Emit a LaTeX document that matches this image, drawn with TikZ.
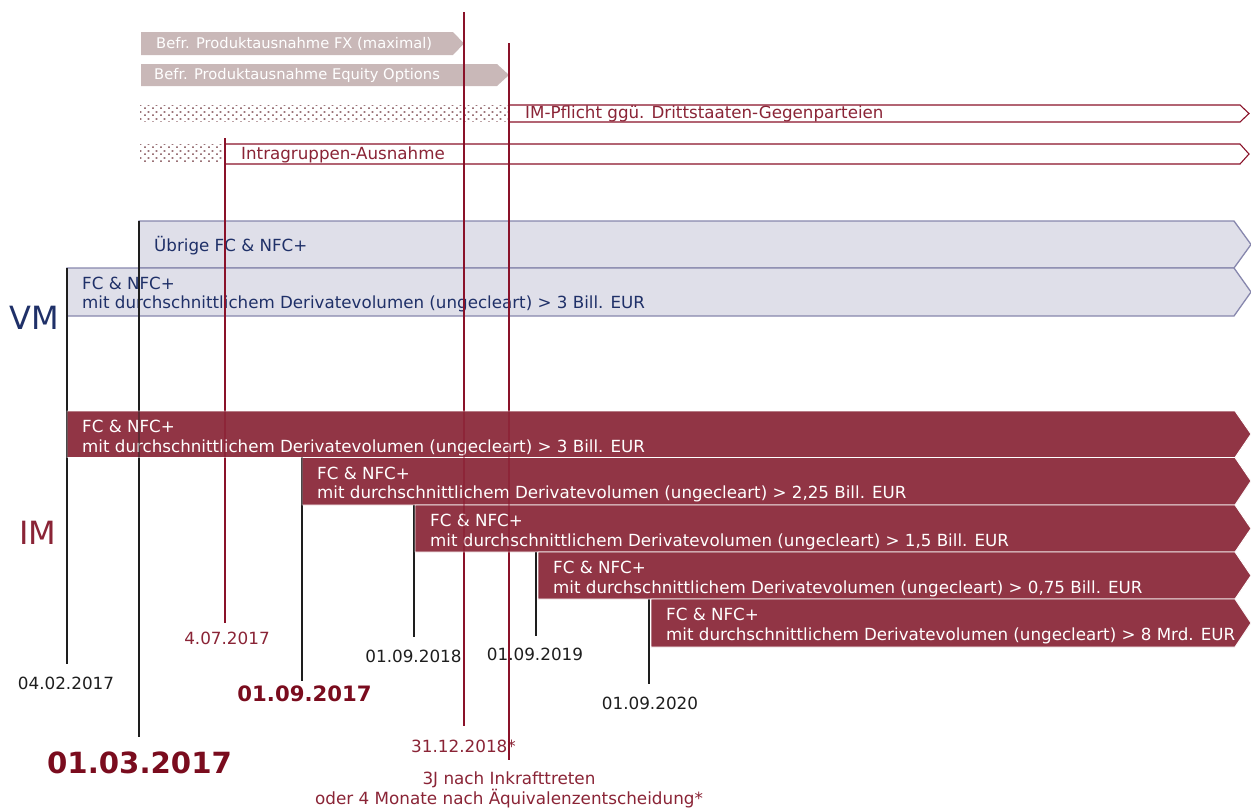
\documentclass[tikz,border=0pt]{standalone}
\usepackage{fontspec}
\setmainfont{DejaVu Sans}
\usetikzlibrary{patterns}
\definecolor{imfill}{HTML}{913545}
\definecolor{redline}{HTML}{8A1229}
\definecolor{redtxt}{HTML}{8A2436}
\definecolor{boldred}{HTML}{7A0C1E}
\definecolor{vmfill}{HTML}{DFDFE9}
\definecolor{vmdraw}{HTML}{8787AD}
\definecolor{vmtxt}{HTML}{1F3068}
\definecolor{grayfill}{HTML}{C9B8B8}
\definecolor{dotc}{HTML}{9C7479}
\definecolor{blk}{HTML}{1E1E1E}
\pgfdeclarepatternformonly{sparsedots}{\pgfpointorigin}{\pgfpoint{8pt}{6.6pt}}{\pgfpoint{8pt}{6.6pt}}{%
  \pgfpathrectangle{\pgfpoint{0pt}{0pt}}{\pgfpoint{2pt}{1.8pt}}%
  \pgfpathrectangle{\pgfpoint{4pt}{3.3pt}}{\pgfpoint{2pt}{1.8pt}}%
  \pgfusepath{fill}}
\tikzset{
  graybar/.style={fill=grayfill},
  graytxt/.style={anchor=west, inner sep=0, text=white, font=\fontsize{14.7}{17}\selectfont},
  dotbar/.style={pattern=sparsedots, pattern color=dotc},
  outbar/.style={draw=redline, line width=1.1pt, fill=white},
  outtxt/.style={anchor=west, inner sep=0, text=redtxt, font=\fontsize{16.7}{19}\selectfont},
  vmbar/.style={fill=vmfill, draw=vmdraw, line width=1.3pt},
  vmtxt/.style={anchor=north west, align=left, inner sep=0, text=vmtxt, font=\fontsize{16.7}{19.5}\selectfont},
  imbar/.style={fill=imfill, draw=white, line width=0.9pt},
  imtxt/.style={anchor=north west, align=left, inner sep=0, text=white, font=\fontsize{16.7}{19.5}\selectfont},
  redv/.style={draw=redline, line width=1.6pt},
  blkv/.style={draw=blk, line width=1.9pt},
  datetxt/.style={inner sep=0, text=blk, font=\fontsize{16.8}{19}\selectfont},
  reddate/.style={inner sep=0, text=redtxt, font=\fontsize{16.8}{20}\selectfont},
  bigtxt/.style={inner sep=0, font=\fontsize{32}{36}\selectfont},
}
\begin{document}
\begin{tikzpicture}[x=1pt,y=-1pt]
\useasboundingbox (0,0) rectangle (1251,809);

% top grey exemption bars
\fill[graybar] (141,32) -- (453,32) -- (464,43.5) -- (453,55) -- (141,55) -- cycle;
\node[graytxt] (fx) at (156,43.5) {Befr. Produktausnahme FX (maximal)};
\fill[graybar] (141,64) -- (497,64) -- (509,75) -- (497,86) -- (141,86) -- cycle;
\node[graytxt] (eq) at (154,75) {Befr. Produktausnahme Equity Options};

% dotted + outlined bars
\fill[dotbar] (140,105) rectangle (508,121);
\path[outbar] (509,105) -- (1240,105) -- (1249,113.5) -- (1240,122) -- (509,122) -- cycle;
\node[outtxt] (drs) at (525,113.5) {IM-Pflicht ggü. Drittstaaten-Gegenparteien};
\fill[dotbar] (140,144) rectangle (224,163);
\path[outbar] (225,144) -- (1240,144) -- (1249,154) -- (1240,164) -- (225,164) -- cycle;
\node[outtxt] (igr) at (241,155) {Intragruppen-Ausnahme};

% VM bars
\path[vmbar] (139,221) -- (1234,221) -- (1251,244.5) -- (1234,268) -- (139,268) -- cycle;
\node[vmtxt, anchor=base west] (vm1) at (154,251) {Übrige FC \& NFC+};
\path[vmbar] (67,268) -- (1234,268) -- (1251,292) -- (1234,316) -- (67,316) -- cycle;
\node[vmtxt] (vm2) at (82,276.5) {FC \& NFC+\\mit durchschnittlichem Derivatevolumen (ungecleart) > 3 Bill. EUR};
\node[bigtxt, text=vmtxt, anchor=west] (VM) at (9,318) {VM};

% date labels
\node[datetxt] (d0402) at (66,683) {04.02.2017};
\node[bigtxt, text=boldred, font=\fontsize{29.2}{32}\selectfont\bfseries] (d0103) at (139.5,763) {01.03.2017};
\node[reddate] (d0407) at (227,638) {4.07.2017};
\node[reddate, text=boldred, font=\fontsize{21.2}{24}\selectfont\bfseries] (d0109a) at (304.5,694) {01.09.2017};
\node[datetxt] (d0918) at (413.5,656) {01.09.2018};
\node[datetxt] (d0919) at (535,654) {01.09.2019};
\node[datetxt] (d0920) at (650,703) {01.09.2020};
\node[reddate] (d3112) at (463.5,746) {31.12.2018*};
\node[reddate, anchor=north, align=center] (d3j) at (509,772) {3J nach Inkrafttreten\\oder 4 Monate nach Äquivalenzentscheidung*};

% vertical lines
\coordinate (t0402) at (67,268);   \coordinate (b0402) at (67,664);
\coordinate (t0103) at (139,221);  \coordinate (b0103) at (139,737);
\coordinate (t0407) at (225,138);  \coordinate (b0407) at (225,623);
\coordinate (t0917) at (302,457);  \coordinate (b0917) at (302,681);
\coordinate (t0918) at (414,505);  \coordinate (b0918) at (414,637);
\coordinate (t0919) at (536,552);  \coordinate (b0919) at (536,636);
\coordinate (t0920) at (649,599);  \coordinate (b0920) at (649,684);
\coordinate (t3112) at (464,12);   \coordinate (b3112) at (464,726);
\coordinate (t3j) at (509,43);     \coordinate (b3j) at (509,760);
\draw[blkv] (t0402) -- (b0402);
\draw[blkv, line width=2.6pt] (t0103) -- (b0103);
\draw[redv] (t0407) -- (b0407);
\draw[blkv] (t0917) -- (b0917);
\draw[blkv] (t0918) -- (b0918);
\draw[blkv] (t0919) -- (b0919);
\draw[blkv] (t0920) -- (b0920);
\draw[redv] (t3112) -- (b3112);
\draw[redv] (t3j) -- (b3j);

% IM bars
\path[imbar] (67,411) -- (1235,411) -- (1251,434) -- (1235,457.5) -- (67,457.5) -- cycle;
\node[imtxt] (im1) at (82,420) {FC \& NFC+\\mit durchschnittlichem Derivatevolumen (ungecleart) > 3 Bill. EUR};
\path[imbar] (302,457.5) -- (1235,457.5) -- (1251,481) -- (1235,505) -- (302,505) -- cycle;
\node[imtxt] (im2) at (317,466.5) {FC \& NFC+\\mit durchschnittlichem Derivatevolumen (ungecleart) > 2,25 Bill. EUR};
\path[imbar] (415,505) -- (1235,505) -- (1251,528.5) -- (1235,552) -- (415,552) -- cycle;
\node[imtxt] (im3) at (430,514) {FC \& NFC+\\mit durchschnittlichem Derivatevolumen (ungecleart) > 1,5 Bill. EUR};
\path[imbar] (538,552) -- (1235,552) -- (1251,575.5) -- (1235,599) -- (538,599) -- cycle;
\node[imtxt] (im4) at (553,561) {FC \& NFC+\\mit durchschnittlichem Derivatevolumen (ungecleart) > 0,75 Bill. EUR};
\path[imbar] (651,599) -- (1235,599) -- (1251,623) -- (1235,647) -- (651,647) -- cycle;
\node[imtxt] (im5) at (666,608) {FC \& NFC+\\mit durchschnittlichem Derivatevolumen (ungecleart) > 8 Mrd. EUR};
\node[bigtxt, text=redtxt, anchor=west] (IM) at (19,533) {IM};

% lines shown faintly over the IM bars
\begin{scope}[draw opacity=0.45]
\draw[blkv] (t0402) -- (b0402);
\draw[blkv, line width=2.6pt] (t0103) -- (b0103);
\draw[redv] (t0407) -- (b0407);
\draw[blkv] (t0917) -- (b0917);
\draw[blkv] (t0918) -- (b0918);
\draw[blkv] (t0919) -- (b0919);
\draw[redv] (t3112) -- (b3112);
\draw[redv] (t3j) -- (b3j);
\end{scope}
\end{tikzpicture}
\end{document}
